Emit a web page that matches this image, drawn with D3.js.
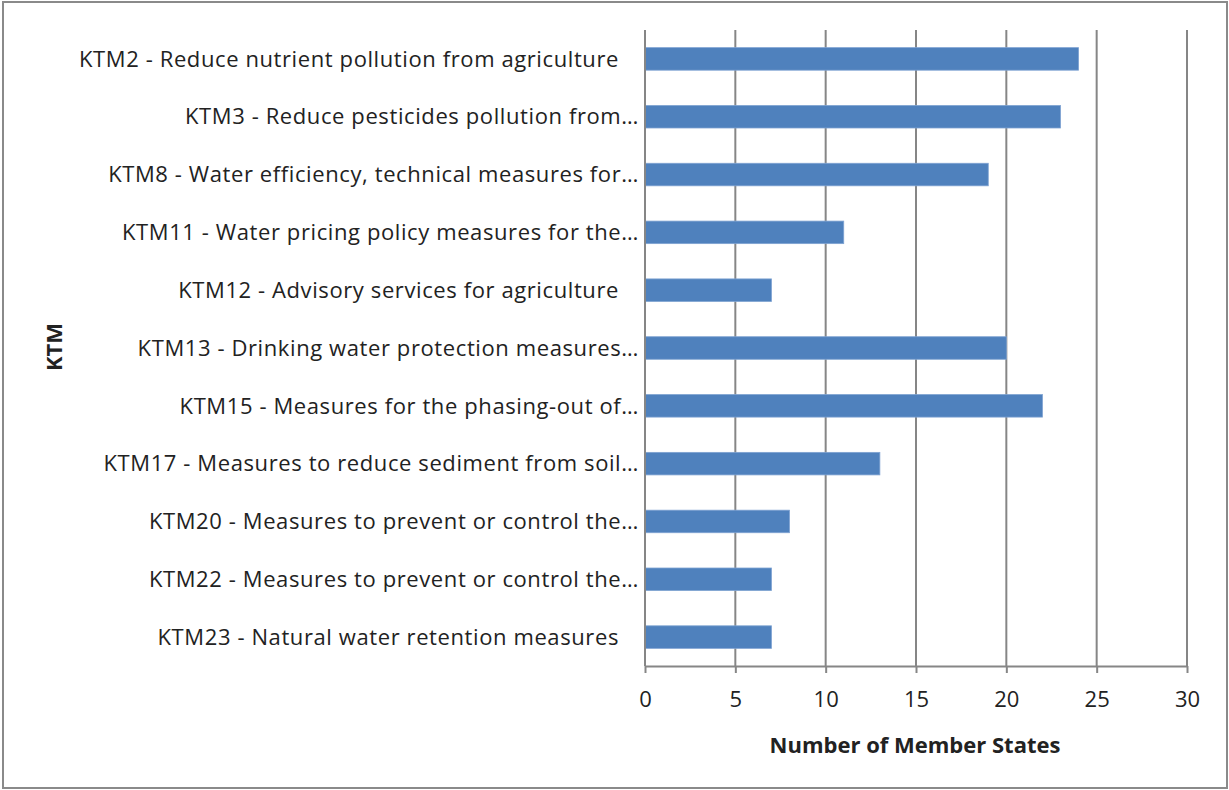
<!DOCTYPE html>
<html>
<head>
<meta charset="utf-8">
<script src="https://cdn.jsdelivr.net/npm/d3@7"></script>
<style>
  html, body { margin: 0; padding: 0; background: #fff; }
  svg { display: block; }
  text { font-family: "Open Sans", Lato, "Noto Sans", sans-serif; fill: #222; }
</style>
</head>
<body>
<svg id="chart" width="1229" height="790"></svg>
<script>
// Key Types of Measures (KTM) reported for agriculture
const categories = [
  "KTM2 - Reduce nutrient pollution from agriculture",
  "KTM3 - Reduce pesticides pollution from…",
  "KTM8 - Water efficiency, technical measures for…",
  "KTM11 - Water pricing policy measures for the…",
  "KTM12 - Advisory services for agriculture",
  "KTM13 - Drinking water protection measures…",
  "KTM15 - Measures for the phasing-out of…",
  "KTM17 - Measures to reduce sediment from soil…",
  "KTM20 - Measures to prevent or control the…",
  "KTM22 - Measures to prevent or control the…",
  "KTM23 - Natural water retention measures"
];
const memberStates = [24, 23, 19, 11, 7, 20, 22, 13, 8, 7, 7];
const xTicks = [0, 5, 10, 15, 20, 25, 30];
const xTitle = "Number of Member States";
const yTitle = "KTM";

const svg = d3.select("#chart");
const W = 1229, H = 790;
const plot = { left: 645, right: 1187, top: 30, bottom: 666 };
const gridColor = "#868686";
const barColor = "#4f81bd";
const fontSize = 22;

// outer frame
svg.append("rect")
  .attr("x", 3).attr("y", 2).attr("width", W - 5).attr("height", H - 4)
  .attr("fill", "none").attr("stroke", "#8a8a8a").attr("stroke-width", 2);

const x = d3.scaleLinear().domain([0, 30]).range([plot.left, plot.right]);
const y = d3.scaleBand().domain(categories).range([plot.top, plot.bottom]).paddingInner(0.61).paddingOuter(0.305);

// vertical gridlines
svg.append("g").selectAll("line").data(xTicks.filter(d => d > 0)).join("line")
  .attr("x1", d => x(d)).attr("x2", d => x(d))
  .attr("y1", plot.top).attr("y2", plot.bottom)
  .attr("stroke", gridColor).attr("stroke-width", 2);

// bars
svg.append("g").selectAll("rect").data(categories).join("rect")
  .attr("x", x(0))
  .attr("y", d => y(d))
  .attr("width", (d, i) => x(memberStates[i]) - x(0))
  .attr("height", y.bandwidth())
  .attr("fill", barColor)
  .attr("stroke", "#7fa3d2").attr("stroke-width", 0.8);

// x axis
const xAxis = svg.append("g")
  .attr("transform", `translate(0,${plot.bottom})`)
  .call(d3.axisBottom(x).tickValues(xTicks).tickSize(7).tickSizeOuter(0).tickPadding(18));
xAxis.select(".domain").attr("stroke", gridColor).attr("stroke-width", 2);
xAxis.selectAll(".tick line").attr("stroke", gridColor).attr("stroke-width", 2);
xAxis.selectAll(".tick text").attr("font-size", fontSize).attr("fill", "#222")
  .style("font-family", "'Open Sans', Lato, sans-serif");

// y axis line
svg.append("line")
  .attr("x1", x(0)).attr("x2", x(0))
  .attr("y1", plot.top).attr("y2", plot.bottom)
  .attr("stroke", gridColor).attr("stroke-width", 2);

// category labels; full labels sit a little further left than truncated ones
svg.append("g").selectAll("text").data(categories).join("text")
  .attr("x", d => d.endsWith("…") ? plot.left - 6 : plot.left - 26)
  .attr("y", d => y(d) + y.bandwidth() / 2)
  .attr("dy", "0.35em")
  .attr("text-anchor", "end")
  .attr("font-size", fontSize)
  .attr("letter-spacing", 0.6)
  .text(d => d);

// axis titles
svg.append("text")
  .attr("x", 915).attr("y", 753)
  .attr("text-anchor", "middle")
  .attr("font-size", fontSize).attr("font-weight", "bold").attr("fill", "#111")
  .text(xTitle);

svg.append("text")
  .attr("transform", `translate(62,347) rotate(-90)`)
  .attr("text-anchor", "middle")
  .attr("font-size", fontSize).attr("font-weight", "bold").attr("fill", "#111")
  .text(yTitle);
</script>
</body>
</html>
